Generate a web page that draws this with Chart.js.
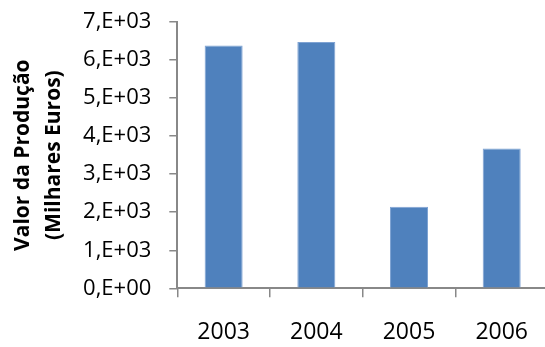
<!DOCTYPE html>
<html>
<head>
<meta charset="utf-8">
<script src="https://cdn.jsdelivr.net/npm/chart.js@4"></script>
<style>
  html, body { margin: 0; padding: 0; background: #fff; overflow: hidden; }
  #wrap { width: 549px; height: 347px; }
</style>
</head>
<body>
<div id="wrap"><canvas id="chart" width="549" height="347"></canvas></div>
<script>
// Production value per year (thousand euros)
const years = ['2003', '2004', '2005', '2006'];
const productionValue = [6380, 6475, 2145, 3675];
const yTickLabels = ['0,E+00', '1,E+03', '2,E+03', '3,E+03', '4,E+03', '5,E+03', '6,E+03', '7,E+03'];
const yTitle = ['Valor da Produção', '(Milhares Euros)'];

const axisGrey = '#888888';

new Chart(document.getElementById('chart'), {
  type: 'bar',
  data: {
    labels: years,
    datasets: [{
      data: productionValue,
      backgroundColor: '#4F81BD',
      borderColor: '#7FA3D3',
      borderWidth: 1,
      barPercentage: 0.41,
      categoryPercentage: 1
    }]
  },
  options: {
    responsive: false,
    animation: false,
    devicePixelRatio: 1,
    layout: { padding: { top: 22, right: 0, bottom: 0, left: 0 } },
    plugins: { legend: { display: false }, tooltip: { enabled: false } },
    scales: {
      x: {
        grid: { drawOnChartArea: false, offset: true, tickLength: 9, color: axisGrey, lineWidth: 1.5 },
        border: { color: axisGrey, width: 2 },
        ticks: { font: { family: 'Open Sans', size: 23 }, color: '#000', padding: 21 },
        afterFit(scale) { scale.height = 58.7; }
      },
      y: {
        min: 0,
        max: 7000,
        ticks: {
          stepSize: 1000,
          callback: (v) => yTickLabels[Math.round(v / 1000)],
          font: { family: 'Open Sans', size: 22 },
          color: '#000',
          padding: 18
        },
        grid: { drawOnChartArea: false, tickLength: 8, color: axisGrey, lineWidth: 1.5 },
        border: { color: axisGrey, width: 2 },
        title: {
          display: true,
          text: yTitle,
          color: '#000',
          font: { family: 'Open Sans', size: 21, weight: 'bold', lineHeight: 1.45 },
          padding: { top: 8, bottom: 0 }
        },
        afterFit(scale) {
          scale.width = 177.3;
          scale.paddingTop = 0;
          scale.paddingBottom = 0;
        }
      }
    }
  }
});
</script>
</body>
</html>
